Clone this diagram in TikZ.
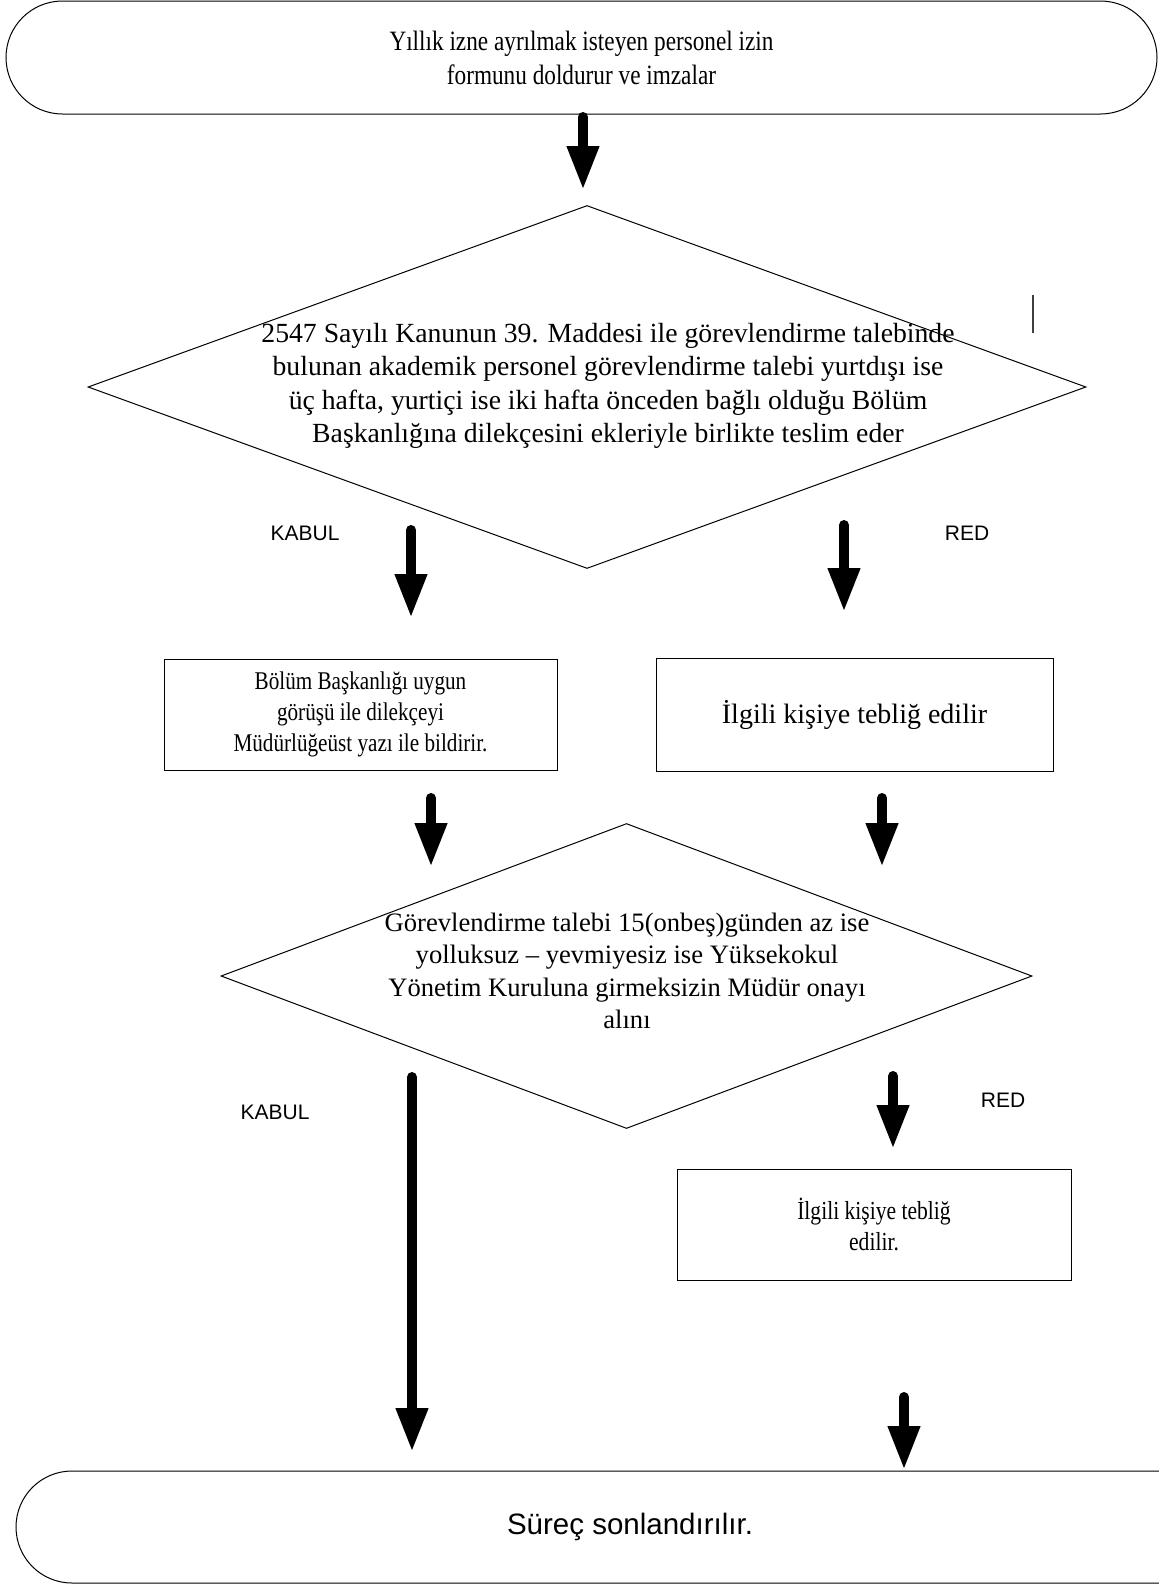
\documentclass[tikz,border=0pt]{standalone}
\usepackage{fontspec}
\setmainfont{Liberation Serif}
\setsansfont{Liberation Sans}
\newfontfamily\narrowfont[FakeStretch=0.83]{Liberation Serif}
\usepackage{tikz}
\usetikzlibrary{shapes.geometric, shapes.misc, arrows.meta}
\tikzstyle{arrow} = [line width=10pt, line cap=round, -{Triangle[length=44pt, width=30pt]}]
\tikzstyle{terminal} = [rounded rectangle, draw, line width=1pt, align=center, inner sep=0pt]
\tikzstyle{decision} = [diamond, draw, line width=1pt, inner sep=0pt]
\tikzstyle{process} = [rectangle, draw, line width=1pt, align=center, inner sep=0pt]
\tikzstyle{answer} = [inner sep=0pt, font=\sffamily\fontsize{21}{25}\selectfont]

\begin{document}
\begin{tikzpicture}[x=1pt, y=-1pt]
  \clip (0,0) rectangle (1159,1585);

  % Start
  \node[terminal, minimum width=1151pt, minimum height=113pt,
        font=\narrowfont\fontsize{28}{34}\selectfont] (start) at (581.5,57.5)
    {Yıllık izne ayrılmak isteyen personel izin\\formunu doldurur ve imzalar};

  % First decision
  \node[decision, minimum width=998pt, minimum height=363pt] (dec1) at (587,387) {};
  \node[align=center, inner sep=0pt, font=\fontsize{27.7}{33.5}\selectfont] (dec1text) at (608,386)
    {2547 Sayılı Kanunun 39. Maddesi ile görevlendirme talebinde\\
     bulunan akademik personel görevlendirme talebi yurtdışı ise\\
     üç hafta, yurtiçi ise iki hafta önceden bağlı olduğu Bölüm\\
     Başkanlığına dilekçesini ekleriyle birlikte teslim eder};
  \draw[line width=1.5pt, black!75] (1033,295) -- (1033,333);

  \node[answer] (kabul1) at (305,533) {KABUL};
  \node[answer] (red1) at (967,533) {RED};

  % Boxes
  \node[process, minimum width=393pt, minimum height=111pt,
        font=\narrowfont\fontsize{25.5}{31.3}\selectfont] (bolum) at (360.5,714.5)
    {Bölüm Başkanlığı uygun\\görüşü ile dilekçeyi\\Müdürlüğeüst yazı ile bildirir.};
  \node[process, minimum width=397pt, minimum height=113pt,
        font=\fontsize{28}{33}\selectfont] (teblig1) at (854.5,714.5)
    {İlgili kişiye tebliğ edilir};

  % Second decision
  \node[decision, minimum width=811pt, minimum height=305pt] (dec2) at (626.5,976) {};
  \node[align=center, inner sep=0pt, font=\fontsize{26.6}{32.3}\selectfont] (dec2text) at (627,971)
    {Görevlendirme talebi 15(onbeş)günden az ise\\
     yolluksuz – yevmiyesiz ise Yüksekokul\\
     Yönetim Kuruluna girmeksizin Müdür onayı\\
     alını};

  \node[answer] (kabul2) at (275,1112) {KABUL};
  \node[answer] (red2) at (1003,1100) {RED};

  \node[process, minimum width=394pt, minimum height=111pt,
        font=\narrowfont\fontsize{26}{30.5}\selectfont] (teblig2) at (874,1224.5)
    {İlgili kişiye tebliğ\\edilir.};

  % End
  \node[terminal, minimum width=1228pt, minimum height=112pt,
        font=\sffamily\fontsize{29.5}{34}\selectfont] (end) at (630,1527)
    {Süreç sonlandırılır.};

  % Arrows
  \coordinate (a1s) at (583,117);   \coordinate (a1e) at (583,190);
  \coordinate (a2s) at (411,530);   \coordinate (a2e) at (411,618);
  \coordinate (a3s) at (844,525);   \coordinate (a3e) at (844,612);
  \coordinate (a4s) at (431,798);   \coordinate (a4e) at (431,867);
  \coordinate (a5s) at (882,798);   \coordinate (a5e) at (882,867);
  \coordinate (a6s) at (412,1077);  \coordinate (a6e) at (412,1452);
  \coordinate (a7s) at (893,1076);  \coordinate (a7e) at (893,1149);
  \coordinate (a8s) at (904,1397);  \coordinate (a8e) at (904,1470);
  \foreach \i in {1,...,8}
    \draw[arrow] (a\i s) -- (a\i e);
\end{tikzpicture}
\end{document}
